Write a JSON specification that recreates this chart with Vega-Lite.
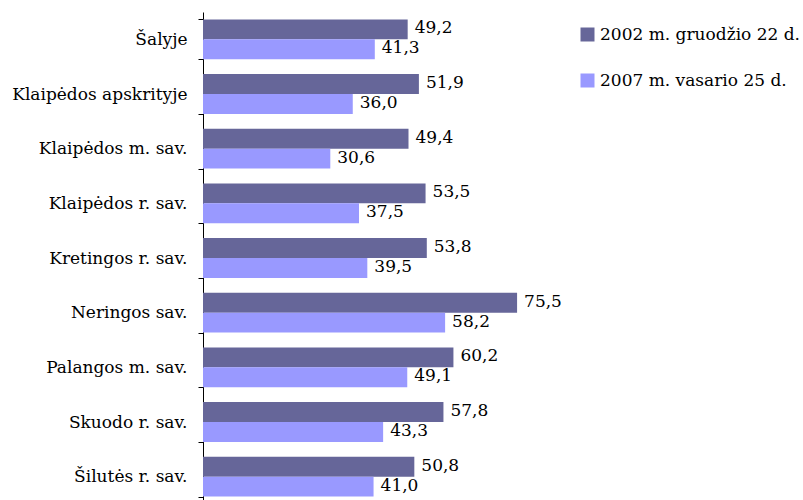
{
  "$schema": "https://vega.github.io/schema/vega-lite/v6.json",
  "width": 416,
  "height": 488,
  "autosize": {"type": "none"},
  "padding": {"left": 203, "top": 12, "right": 184, "bottom": 0},
  "config": {
    "view": {"stroke": null},
    "font": "DejaVu Serif",
    "locale": {"number": {"decimal": ",", "thousands": ".", "grouping": [3], "currency": ["", " €"]}}
  },
  "data": {
    "values": [
      {"vieta": "Šalyje", "data": "2002 m. gruodžio 22 d.", "reiksme": 49.2},
      {"vieta": "Šalyje", "data": "2007 m. vasario 25 d.", "reiksme": 41.3},
      {"vieta": "Klaipėdos apskrityje", "data": "2002 m. gruodžio 22 d.", "reiksme": 51.9},
      {"vieta": "Klaipėdos apskrityje", "data": "2007 m. vasario 25 d.", "reiksme": 36.0},
      {"vieta": "Klaipėdos m. sav.", "data": "2002 m. gruodžio 22 d.", "reiksme": 49.4},
      {"vieta": "Klaipėdos m. sav.", "data": "2007 m. vasario 25 d.", "reiksme": 30.6},
      {"vieta": "Klaipėdos r. sav.", "data": "2002 m. gruodžio 22 d.", "reiksme": 53.5},
      {"vieta": "Klaipėdos r. sav.", "data": "2007 m. vasario 25 d.", "reiksme": 37.5},
      {"vieta": "Kretingos r. sav.", "data": "2002 m. gruodžio 22 d.", "reiksme": 53.8},
      {"vieta": "Kretingos r. sav.", "data": "2007 m. vasario 25 d.", "reiksme": 39.5},
      {"vieta": "Neringos sav.", "data": "2002 m. gruodžio 22 d.", "reiksme": 75.5},
      {"vieta": "Neringos sav.", "data": "2007 m. vasario 25 d.", "reiksme": 58.2},
      {"vieta": "Palangos m. sav.", "data": "2002 m. gruodžio 22 d.", "reiksme": 60.2},
      {"vieta": "Palangos m. sav.", "data": "2007 m. vasario 25 d.", "reiksme": 49.1},
      {"vieta": "Skuodo r. sav.", "data": "2002 m. gruodžio 22 d.", "reiksme": 57.8},
      {"vieta": "Skuodo r. sav.", "data": "2007 m. vasario 25 d.", "reiksme": 43.3},
      {"vieta": "Šilutės r. sav.", "data": "2002 m. gruodžio 22 d.", "reiksme": 50.8},
      {"vieta": "Šilutės r. sav.", "data": "2007 m. vasario 25 d.", "reiksme": 41.0}
    ]
  },
  "encoding": {
    "y": {
      "field": "vieta",
      "type": "nominal",
      "sort": null,
      "title": null,
      "scale": {"range": [0, 492], "paddingInner": 0.27, "paddingOuter": 0.135},
      "axis": {
        "domainColor": "#000000",
        "tickColor": "#000000",
        "tickSize": 5,
        "tickBand": "extent",
        "labelPadding": 11,
        "labelColor": "#000000",
        "labelFont": "DejaVu Serif",
        "labelFontSize": 17,
        "labelLimit": 250
      }
    },
    "yOffset": {"field": "data", "type": "nominal", "sort": null},
    "x": {
      "field": "reiksme",
      "type": "quantitative",
      "scale": {"domain": [0, 100]},
      "axis": null
    }
  },
  "layer": [
    {
      "mark": {"type": "bar"},
      "encoding": {
        "color": {
          "field": "data",
          "type": "nominal",
          "sort": null,
          "scale": {"domain": ["2002 m. gruodžio 22 d.", "2007 m. vasario 25 d."], "range": ["#666699", "#9999FF"]},
          "legend": {
            "title": null,
            "orient": "none",
            "legendX": 376,
            "legendY": 14,
            "symbolType": "square",
            "symbolSize": 196,
            "symbolStrokeWidth": 0,
            "symbolOpacity": 1,
            "labelFont": "DejaVu Serif",
            "labelFontSize": 17,
            "labelColor": "#000000",
            "labelLimit": 300,
            "labelOffset": 4,
            "rowPadding": 28
          }
        }
      }
    },
    {
      "mark": {"type": "text", "align": "left", "baseline": "middle", "dx": 7, "dy": -1, "fontSize": 17, "font": "DejaVu Serif", "color": "#000000"},
      "encoding": {
        "text": {"field": "reiksme", "type": "quantitative", "format": ".1f"}
      }
    }
  ]
}
